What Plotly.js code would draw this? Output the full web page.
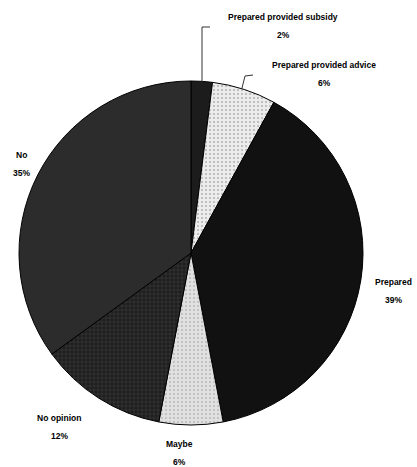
<!DOCTYPE html>
<html>
<head>
<meta charset="utf-8">
<script src="https://cdn.plot.ly/plotly-3.0.1.min.js"></script>
<style>html,body{margin:0;padding:0;background:#fff;}#chart{width:417px;height:467px;}</style>
</head>
<body>
<div id="chart"></div>
<script>
// Data
const labels = ["Prepared provided subsidy", "Prepared provided advice", "Prepared", "Maybe", "No opinion", "No"];
const values = [2, 6, 39, 6, 12, 35];

// Styles (not data)
const colors = ["#1c1c1c", "#ececec", "#111111", "#e0e0e0", "#1e1e1e", "#2c2c2c"];
const patterns = ["", ".", "", ".", "+", ""];
const patternFg = ["#000", "#b0b0b0", "#000", "#b8b8b8", "#444", "#000"];
const labelPos = [
  {x: 283, y: 17}, {x: 324, y: 65}, {x: 393, y: 282},
  {x: 179, y: 444}, {x: 59, y: 418}, {x: 21, y: 155}
];

const W = 417, H = 467;
const total = values.reduce((a, b) => a + b, 0);
const font = {family: "Liberation Sans, Arial, sans-serif", size: 8.5, color: "#000"};
const annotations = [];
labels.forEach((l, i) => {
  const pct = Math.round(values[i] / total * 100) + "%";
  annotations.push({
    xref: "paper", yref: "paper", x: labelPos[i].x / W, y: 1 - labelPos[i].y / H,
    text: "<b>" + l + "</b>", showarrow: false, font: font,
    xanchor: "center", yanchor: "middle"
  });
  annotations.push({
    xref: "paper", yref: "paper", x: labelPos[i].x / W, y: 1 - (labelPos[i].y + 18) / H,
    text: "<b>" + pct + "</b>", showarrow: false, font: font,
    xanchor: "center", yanchor: "middle"
  });
});

const px = (x) => x / W, py = (y) => 1 - y / H;
const lineStyle = {color: "#333", width: 1};
const shapes = [
  {type: "path", xref: "paper", yref: "paper",
   path: `M ${px(202)} ${py(82)} L ${px(202)} ${py(27)} L ${px(210)} ${py(27)}`, line: lineStyle},
  {type: "path", xref: "paper", yref: "paper",
   path: `M ${px(242)} ${py(88)} L ${px(245)} ${py(76)} L ${px(253)} ${py(75)}`, line: lineStyle}
];

const trace = {
  type: "pie",
  labels: labels,
  values: values,
  sort: false,
  direction: "clockwise",
  rotation: 0,
  textinfo: "none",
  hoverinfo: "label+percent",
  marker: {
    colors: colors,
    line: {color: "#000", width: 1},
    pattern: {shape: patterns, fgcolor: patternFg, bgcolor: colors, size: 4, solidity: 0.2}
  },
  domain: {x: [(191 - 172) / W, (191 + 172) / W], y: [1 - 425 / H, 1 - 81 / H]},
  showlegend: false
};

Plotly.newPlot("chart", [trace], {
  width: W, height: H,
  margin: {l: 0, r: 0, t: 0, b: 0},
  paper_bgcolor: "#fff",
  showlegend: false,
  annotations: annotations,
  shapes: shapes
}, {displayModeBar: false, staticPlot: true});
</script>
</body>
</html>
